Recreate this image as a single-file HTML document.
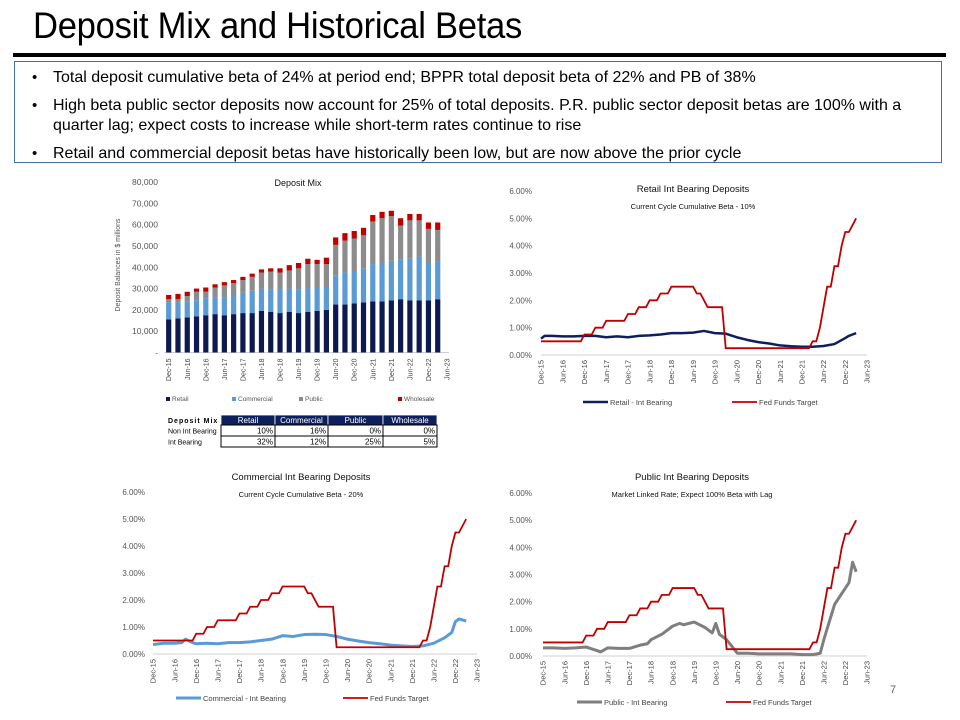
<!DOCTYPE html>
<html><head><meta charset="utf-8">
<style>
body{margin:0;width:960px;height:720px;background:#fff;overflow:hidden;font-family:"Liberation Sans",sans-serif;position:relative}
#title{position:absolute;left:33px;top:5px;font-size:37px;color:#000;font-family:"Liberation Sans",sans-serif;transform:scaleX(0.935);transform-origin:left top;letter-spacing:-0.3px}
#rule{position:absolute;left:13px;top:53px;width:933px;height:4px;background:#000}
#box{position:absolute;left:14px;top:61px;width:928px;height:102px;border:1.5px solid #41719c;box-sizing:border-box}
.bul{position:absolute;left:53px;font-size:16px;color:#000;line-height:20px;width:870px}
.bul span.dot{position:absolute;left:-21px;font-size:15px}
svg{position:absolute;left:0;top:0}
</style></head><body>
<div id="title">Deposit Mix and Historical Betas</div>
<div id="rule"></div>
<div id="box"></div>
<div class="bul" style="top:68px"><span class="dot">•</span>Total deposit cumulative beta of 24% at period end; BPPR total deposit beta of 22% and PB of 38%</div>
<div class="bul" style="top:96px"><span class="dot">•</span>High beta public sector deposits now account for 25% of total deposits. P.R. public sector deposit betas are 100% with a quarter lag; expect costs to increase while short-term rates continue to rise</div>
<div class="bul" style="top:144px"><span class="dot">•</span>Retail and commercial deposit betas have historically been low, but are now above the prior cycle</div>
<svg id="s" width="960" height="720"></svg>
<script>
// ---- Data ----
const xLabels=["Dec-15","Jun-16","Dec-16","Jun-17","Dec-17","Jun-18","Dec-18","Jun-19","Dec-19","Jun-20","Dec-20","Jun-21","Dec-21","Jun-22","Dec-22","Jun-23"];
const barRetail=[15.5,16,16.5,17,17.5,18,17.5,18,18.5,18.5,19.5,19,18.5,19,18.5,19,19.5,20,22.5,22.5,23,23.5,24,24,24.5,25,24.5,24.5,24.5,25];
const barCommercial=[8,7.5,7.5,7.5,8,8,8.5,8.5,9.5,10.5,10.5,10.5,11,11,11,11,11,10.5,13.5,15,15,16,17.5,18,18.5,18.5,19.5,20.5,17.5,17.5];
const barPublic=[1.5,1.5,2.5,4,3,4.5,5.5,6,6,6.5,7.5,8.5,8,8.5,10,11.5,11,11,14.5,15,15.5,15.5,20,21,21,16,18,17,16,15];
const barWholesale=[2,2.5,2,1.5,2,1.5,1.5,1.5,1.5,1.5,1.5,1.5,2,2.5,2.5,2.5,2,3,3.5,3.5,3.5,3.5,3,3,2.5,3.5,3,3,3,3.5];
const barTicks=[0,10,20,30,40,50,60,70,80];
const pctTicks=[0,1,2,3,4,5,6];
const fedFunds=[0.5,0.5,0.5,0.5,0.5,0.5,0.5,0.5,0.5,0.5,0.5,0.5,
0.75,0.75,0.75,1,1,1,1.25,1.25,1.25,1.25,1.25,1.25,1.5,1.5,1.5,1.75,1.75,1.75,2,2,2,2.25,2.25,2.25,
2.5,2.5,2.5,2.5,2.5,2.5,2.5,2.25,2.25,2,1.75,1.75,1.75,1.75,1.75,
0.25,0.25,0.25,0.25,0.25,0.25,0.25,0.25,0.25,0.25,0.25,0.25,0.25,0.25,0.25,0.25,0.25,0.25,0.25,0.25,0.25,0.25,0.25,0.25,
0.5,0.5,1,1.75,2.5,2.5,3.25,3.25,4,4.5,4.5,4.75,5];
const retailMonths=[0,1,3,6,9,12,15,18,21,24,27,30,33,36,39,42,45,48,51,54,57,60,63,66,69,72,75,78,81,84,85,87];
const retailVals=[0.6,0.7,0.7,0.68,0.68,0.7,0.7,0.65,0.68,0.65,0.7,0.72,0.75,0.8,0.8,0.82,0.88,0.8,0.78,0.65,0.55,0.47,0.42,0.35,0.32,0.3,0.3,0.33,0.4,0.62,0.7,0.8];
const commMonths=[0,3,6,8,9,11,12,15,18,21,24,27,30,33,36,39,42,45,48,51,54,57,60,63,66,69,72,75,78,81,83,84,85,87];
const commVals=[0.35,0.4,0.4,0.42,0.55,0.42,0.38,0.4,0.38,0.42,0.42,0.45,0.5,0.55,0.68,0.65,0.72,0.73,0.72,0.65,0.55,0.48,0.42,0.38,0.33,0.3,0.28,0.3,0.4,0.6,0.8,1.2,1.3,1.22];
const pubMonths=[0,3,6,9,12,15,16,18,21,24,27,29,30,33,36,38,39,42,45,47,48,49,51,54,57,60,63,66,69,72,75,77,78,81,84,85,86,87];
const pubVals=[0.3,0.3,0.28,0.3,0.33,0.2,0.15,0.3,0.28,0.28,0.4,0.45,0.6,0.8,1.1,1.2,1.15,1.25,1.05,0.85,1.2,0.8,0.6,0.1,0.1,0.08,0.08,0.08,0.08,0.05,0.05,0.1,0.6,1.9,2.5,2.7,3.45,3.1];

const S=document.getElementById('s');
const NS='http://www.w3.org/2000/svg';
function mk(tag,attrs,text){const e=document.createElementNS(NS,tag);for(const k in attrs)e.setAttribute(k,attrs[k]);if(text!==undefined)e.textContent=text;S.appendChild(e);return e;}
function txt(x,y,t,size,anchor,color,extra){const a={x:x,y:y,'font-size':size,'text-anchor':anchor||'start',fill:color||'#333','font-family':'Liberation Sans, sans-serif'};if(extra)for(const k in extra)a[k]=extra[k];return mk('text',a,t);}

// ---- Bar chart ----
(function(){
 const x0=168.7,x1=447,y0=352.5,y1=182;
 const xs=i=>x0+(x1-x0)*i/30;
 const ys=v=>y0-(y0-y1)*v/80;
 barTicks.forEach(t=>{const e=txt(158,ys(t)+3,t===0?'-':(t*1000).toLocaleString('en-US'),8.5,'end','#555');
  
  });
 const yt=txt(0,0,'Deposit Balances  in $ millions',7,'middle','#555',{transform:'translate(120,265) rotate(-90)'});
 
 
 const ax=mk('line',{x1:x0-4,x2:x1+2,y1:y0,y2:y0,stroke:'#d0d0d0','stroke-width':1});
 
 
 const cols=['#0d1a4f','#5b9bd5','#8c8c8c','#c00000'];
 const series=[barRetail,barCommercial,barPublic,barWholesale];
 const names=['retail','commercial','public','wholesale'];
 for(let i=0;i<barRetail.length;i++){let base=0;
  series.forEach((ser,k)=>{const r=mk('rect',{x:xs(i)-2.6,width:5.2,y:ys(base+ser[i]),height:ys(base)-ys(base+ser[i]),fill:cols[k]});
   
   
   base+=ser[i];});}
 xLabels.forEach((l,j)=>{const x=xs(j*2);const e=txt(0,0,l,7,'end','#444',{transform:`translate(${x+2.5},${y0+6}) rotate(-90)`});
  
  });
 const t=txt(298,186,'Deposit Mix',9,'middle','#111');
 
 
 const lg=[['Retail',172],['Commercial',238],['Public',305],['Wholesale',404]];
 lg.forEach((g,k)=>{const r=mk('rect',{x:g[1]-6,y:397,width:4,height:4,fill:cols[k]});
  
  
  const e=txt(g[1],401,g[0],6.5,'start','#555');
  
  });
 // table
 const cx=[221,275,328,383,437];
 const hdr=['Retail','Commercial','Public','Wholesale'];
 const r1=['10%','16%','0%','0%'],r2=['32%','12%','25%','5%'];
 const h=txt(168,423,'Deposit Mix',7,'start','#000',{'font-weight':'bold','letter-spacing':'1'});
 
 
 for(let c=0;c<4;c++){
  const r=mk('rect',{x:cx[c],y:415,width:cx[c+1]-cx[c],height:10,fill:'#0d1f5c',stroke:'#fff','stroke-width':0.8});
  
  
  const e=txt((cx[c]+cx[c+1])/2,423,hdr[c],8,'middle','#fff');
  
  
  [[r1,425],[r2,436]].forEach(rr=>{const b=mk('rect',{x:cx[c],y:rr[1],width:cx[c+1]-cx[c],height:11,fill:'none',stroke:'#000','stroke-width':1});
   
   
   const v=txt(cx[c+1]-2,rr[1]+8.5,rr[0][c],8,'end','#000');
   
   });
 }
 const a=txt(168,433.5,'Non Int Bearing',7,'start','#000');
 const b=txt(168,444.5,'Int Bearing',7,'start','#000');
})();

// ---- Line charts ----
function lineChart(o){
 const xs=m=>o.x0+(o.x1-o.x0)*m/90;
 const ys=v=>o.y0-(o.y0-o.y1)*v/6;
 pctTicks.forEach(t=>{const e=txt(o.lx,ys(t)+3,t.toFixed(2)+'%',8,'end','#555');
  
  });
 const ax=mk('line',{x1:o.x0,x2:o.x1,y1:o.y0,y2:o.y0,stroke:'#d0d0d0','stroke-width':1});
 
 
 xLabels.forEach((l,j)=>{const x=xs(j*6);const e=txt(0,0,l,7.5,'end','#444',{transform:`translate(${x+2.7},${o.y0+5}) rotate(-90)`});
  
  });
 const p1=mk('polyline',{points:o.months.map((m,i)=>xs(m)+','+ys(o.vals[i])).join(' '),fill:'none',stroke:o.color,'stroke-width':o.w,'stroke-linejoin':'round'});
 
 
 const p2=mk('polyline',{points:fedFunds.map((v,i)=>xs(i)+','+ys(v)).join(' '),fill:'none',stroke:'#c00000','stroke-width':1.8});
 
 
 const t=txt(o.tx,o.ty,o.title,9.5,'middle','#111');
 
 
 const st=txt(o.tx,o.ty+17,o.sub,7.5,'middle','#111');
 
 
 const l1=mk('line',{x1:o.lg1,x2:o.lg1+25,y1:o.ly-3,y2:o.ly-3,stroke:o.color,'stroke-width':o.w});
 
 
 const e1=txt(o.lg1+27,o.ly,o.lname,7.5,'start','#444');
 
 
 const l2=mk('line',{x1:o.lg2,x2:o.lg2+25,y1:o.ly-3,y2:o.ly-3,stroke:'#c00000','stroke-width':1.8});
 
 
 const e2=txt(o.lg2+27,o.ly,'Fed Funds Target',7.5,'start','#444');
 
 
}
lineChart({id:'retail',x0:541,x1:867,y0:355,y1:191,lx:532,months:retailMonths,vals:retailVals,color:'#0f1f5c',w:2.5,title:'Retail Int Bearing Deposits',sub:'Current Cycle Cumulative Beta - 10%',tx:693,ty:192,lname:'Retail - Int Bearing',lg1:583,lg2:732,ly:405});
lineChart({id:'commercial',x0:153,x1:477,y0:654,y1:492,lx:145,months:commMonths,vals:commVals,color:'#5b9bd5',w:3,title:'Commercial Int Bearing Deposits',sub:'Current Cycle Cumulative Beta - 20%',tx:301,ty:480,lname:'Commercial - Int Bearing',lg1:176,lg2:343,ly:701});
lineChart({id:'public',x0:543,x1:867,y0:656,y1:493,lx:532,months:pubMonths,vals:pubVals,color:'#7f7f7f',w:3,title:'Public Int Bearing Deposits',sub:'Market Linked Rate; Expect 100% Beta with Lag',tx:692,ty:480,lname:'Public - Int Bearing',lg1:577,lg2:726,ly:705});
const pn=txt(893,693,'7',11,'middle','#666');


</script>
</body></html>
